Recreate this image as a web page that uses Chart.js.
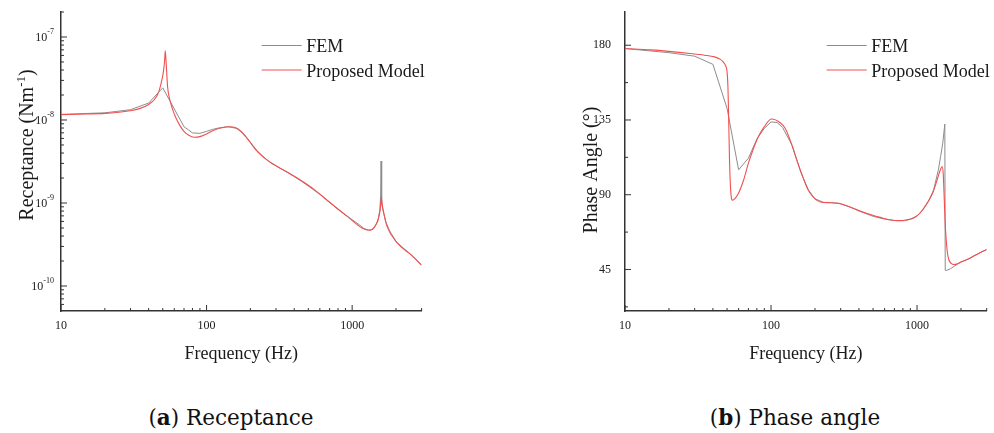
<!DOCTYPE html>
<html>
<head>
<meta charset="utf-8">
<script src="https://cdn.jsdelivr.net/npm/chart.js@4.4.0/dist/chart.umd.min.js"></script>
<style>
  body { margin: 0; background: #fff; width: 994px; height: 433px; overflow: hidden; position: relative; }
  .box { position: absolute; top: 0; width: 497px; height: 370px; }
  .cap { position: absolute; top: 407px; font: 21.5px/1 "DejaVu Serif", serif; color: #111; transform: translateX(-50%); white-space: nowrap; }
</style>
</head>
<body>
<div class="box" style="left:0"><canvas id="rec"></canvas></div>
<div class="box" style="left:497px"><canvas id="pha"></canvas></div>
<div class="cap" style="left:231px">(<b>a</b>) Receptance</div>
<div class="cap" style="left:795px">(<b>b</b>) Phase angle</div>
<script>
// fontit ja värit
const serif = '"Liberation Serif", "Times New Roman", serif';
const ink = '#1a1a1a';
const femColor = 'rgb(140,140,140)';
const modelColor = 'rgb(242,80,80)';
const seriesNames = ['FEM', 'Proposed Model'];

// taajuusakseli (Hz)
const freqTicks = [10, 100, 1000];
const freqMinor = [20, 30, 40, 50, 60, 70, 80, 90, 200, 300, 400, 500, 600, 700, 800, 900, 2000, 3000];

// (a) reseptanssi
const recTicks = [1e-7, 1e-8, 1e-9, 1e-10];
const recTickExp = ['-7', '-8', '-9', '-10'];
const recMinor = [6e-11, 7e-11, 8e-11, 9e-11,
  2e-10, 3e-10, 4e-10, 5e-10, 6e-10, 7e-10, 8e-10, 9e-10,
  2e-9, 3e-9, 4e-9, 5e-9, 6e-9, 7e-9, 8e-9, 9e-9,
  2e-8, 3e-8, 4e-8, 5e-8, 6e-8, 7e-8, 8e-8, 9e-8, 2e-7];

const femRecF = [10, 20, 30, 40, 50, 60, 70, 80, 90, 100, 110, 120, 140, 160, 180, 200, 220, 240, 260, 280, 300, 350, 400, 450, 500,
  600, 700, 800, 900, 1000, 1100, 1200, 1300, 1400, 1500, 1550, 1570, 1580, 1590, 1600, 1650, 1700, 1800, 2000, 2200, 2500, 2800, 3000];
const femRecV = [1.17e-8, 1.22e-8, 1.33e-8, 1.6e-8, 2.44e-8, 1.36e-8, 8.3e-9, 7.0e-9, 6.9e-9, 7.3e-9, 7.7e-9, 8.0e-9, 8.3e-9, 7.95e-9, 6.8e-9, 5.4e-9, 4.35e-9, 3.75e-9, 3.3e-9, 3.0e-9, 2.8e-9, 2.4e-9, 2.08e-9, 1.82e-9, 1.6e-9,
  1.27e-9, 1.02e-9, 8.4e-10, 7.2e-10, 6.3e-10, 5.6e-10, 4.95e-10, 4.7e-10, 4.85e-10, 6.0e-10, 8.2e-10, 1.25e-9, 3.2e-9, 1.3e-9, 9.8e-10, 7.5e-10, 6.0e-10, 4.7e-10, 3.45e-10, 2.96e-10, 2.44e-10, 2.03e-10, 1.78e-10];

const modelRecF = [10, 15, 20, 25, 30, 35, 40, 44, 47, 49, 50.5, 51.5, 52, 52.8, 54, 56, 60, 65, 70, 75, 82, 90, 100, 110, 125, 145,
  165, 190, 215, 240, 270, 310, 360, 420, 550, 710, 925, 1170, 1320, 1450, 1520, 1560, 1585, 1610, 1650, 1740, 2040, 2520, 3000];
const modelRecV = [1.16e-8, 1.18e-8, 1.2e-8, 1.24e-8, 1.29e-8, 1.38e-8, 1.54e-8, 1.78e-8, 2.2e-8, 2.9e-8, 3.8e-8, 5.2e-8, 6.8e-8, 4.8e-8, 2.5e-8, 1.74e-8, 1.18e-8, 8.8e-9, 7.3e-9, 6.6e-9, 6.2e-9, 6.3e-9, 6.8e-9, 7.4e-9, 8.0e-9, 8.3e-9,
  7.8e-9, 6.0e-9, 4.5e-9, 3.7e-9, 3.15e-9, 2.72e-9, 2.35e-9, 2.0e-9, 1.45e-9, 1.0e-9, 6.9e-10, 5.0e-10, 4.7e-10, 5.4e-10, 6.6e-10, 8.5e-10, 1.15e-9, 9.5e-10, 7.5e-10, 5.2e-10, 3.3e-10, 2.4e-10, 1.78e-10];

// (b) vaihekulma (astetta)
const phaseTicks = [45, 90, 135, 180];
const phaseMinor = [22.5, 67.5, 112.5, 157.5];

const femPhF = [10, 20, 30, 40, 50, 60, 70, 80, 90, 100, 110, 120, 140, 160, 180, 200, 230, 260, 300, 350, 400, 500,
  600, 700, 800, 900, 1000, 1100, 1200, 1300, 1400, 1450, 1500, 1550, 1560, 1600, 1700, 1800, 2000, 2200, 2500, 2800, 3000];
const femPhV = [178, 175.5, 173.4, 168.5, 142, 105, 112, 123.5, 130, 133.8, 133.5, 130.5, 119.5, 103.5, 93, 87.5, 85.4, 85.2, 84.5, 82.5, 80.2, 77,
  75.3, 74.5, 74.3, 75.3, 77.2, 81, 86, 93, 105, 113, 121, 132.5, 44.5, 44.5, 45.5, 47, 49.5, 51, 53.5, 55.8, 57];

const modelPhF = [10, 15, 20, 28, 35, 41, 45, 47, 49, 50, 50.7, 51.3, 52, 53, 54.5, 57, 60, 65, 70, 76, 82, 90, 101, 115, 125, 135, 150,
  160, 175, 185, 200, 218, 250, 283, 350, 431, 550, 730, 850, 950, 1050, 1172, 1280, 1373, 1445, 1486, 1510, 1540, 1567, 1610, 1650, 1720, 1785, 1900, 2000, 2207, 2500, 2800, 3000];
const modelPhV = [178, 177.2, 176.3, 175, 174, 173, 171.5, 170, 167.5, 164, 155, 135, 110, 92, 86.7, 88, 91, 99, 109, 118, 125, 131, 135.6, 133.5, 130, 123, 111,
  104, 95, 91, 87.5, 85.6, 85.2, 85, 82.5, 79.4, 76.5, 74.4, 74.8, 76, 79, 85, 91, 99, 105, 107, 103, 85, 69, 56, 51, 48.5, 48, 48.5, 49.5, 51, 53.5, 55.8, 57];

function pts(fs, vs) {
  return fs.map((f, i) => ({ x: f, y: vs[i] }));
}

// Piirretään sisäänpäin osoittavat tikit, selite ja akselien otsikot
const decor = {
  id: 'decor',
  afterDraw(chart, args, o) {
    const ctx = chart.ctx, xs = chart.scales.x, ys = chart.scales.y, a = chart.chartArea;
    ctx.save();
    ctx.strokeStyle = '#333';
    ctx.lineWidth = 1;
    const line = (x1, y1, x2, y2) => { ctx.beginPath(); ctx.moveTo(x1, y1); ctx.lineTo(x2, y2); ctx.stroke(); };
    freqTicks.forEach(v => { const x = xs.getPixelForValue(v); line(x, a.bottom, x, a.bottom - 6); });
    freqMinor.forEach(v => { const x = xs.getPixelForValue(v); line(x, a.bottom, x, a.bottom - 3); });
    o.yMajor.forEach(v => { const y = ys.getPixelForValue(v); line(a.left, y, a.left + 6, y); });
    o.yMinor.forEach(v => { const y = ys.getPixelForValue(v); line(a.left, y, a.left + 3, y); });

    // y-tikkien tekstit potenssimuodossa
    ctx.fillStyle = ink;
    if (o.expLabels) {
      ctx.textBaseline = 'middle';
      o.yMajor.forEach((v, i) => {
        const y = ys.getPixelForValue(v);
        ctx.font = '8px ' + serif;
        const sw = ctx.measureText(o.expLabels[i]).width;
        const xr = a.left - 7;
        ctx.textAlign = 'left';
        ctx.fillText(o.expLabels[i], xr - sw, y - 5);
        ctx.font = '12px ' + serif;
        ctx.textAlign = 'right';
        ctx.fillText('10', xr - sw, y + 1);
      });
    }

    // selite
    ctx.textBaseline = 'alphabetic';
    ctx.textAlign = 'left';
    ctx.font = '18px ' + serif;
    chart.data.datasets.forEach((d, i) => {
      const y = o.legendY + i * 24.5;
      ctx.strokeStyle = d.borderColor;
      ctx.lineWidth = 1.2;
      line(o.legendX, y, o.legendX + 40, y);
      ctx.fillText(d.label, o.legendX + 44.5, y + 6.5);
    });

    // x-otsikko
    ctx.textAlign = 'center';
    ctx.fillText('Frequency (Hz)', (a.left + a.right) / 2, 359);

    // y-otsikko, käännetty
    ctx.translate(o.yTitleX, o.yTitleY);
    ctx.rotate(-Math.PI / 2);
    let w = 0;
    o.yTitle.forEach(p => { ctx.font = p[1] + 'px ' + serif; w += ctx.measureText(p[0]).width; });
    let x = -w / 2;
    ctx.textAlign = 'left';
    o.yTitle.forEach(p => {
      ctx.font = p[1] + 'px ' + serif;
      ctx.fillText(p[0], x, p[2]);
      x += ctx.measureText(p[0]).width;
    });
    ctx.restore();
  }
};

function xAxis() {
  return {
    type: 'logarithmic', min: 10, max: 3000,
    afterBuildTicks: s => { s.ticks = freqTicks.map(v => ({ value: v })); },
    afterFit: s => { s.height = 59; s.paddingLeft = 0; s.paddingRight = 0; },
    grid: { display: false, drawTicks: false },
    border: { color: '#333', width: 1.5 },
    ticks: { callback: v => String(v), font: { family: serif, size: 12 }, color: ink, padding: 8, maxRotation: 0, autoSkip: false }
  };
}

function datasets(femF, femV, modF, modV) {
  return [
    { label: seriesNames[0], data: pts(femF, femV), borderColor: femColor, borderWidth: 1, pointRadius: 0, tension: 0, order: 1 },
    { label: seriesNames[1], data: pts(modF, modV), borderColor: modelColor, borderWidth: 1.1, pointRadius: 0, cubicInterpolationMode: 'monotone', order: 0 }
  ];
}

new Chart(document.getElementById('rec'), {
  type: 'line',
  data: { datasets: datasets(femRecF, femRecV, modelRecF, modelRecV) },
  options: {
    responsive: true, maintainAspectRatio: false, animation: false, events: [],
    layout: { padding: { top: 12, right: 75.4, left: 0, bottom: 0 } },
    scales: {
      x: xAxis(),
      y: {
        type: 'logarithmic', min: 5e-11, max: 2e-7,
        afterFit: s => { s.width = 61; s.paddingTop = 0; s.paddingBottom = 0; },
        grid: { display: false, drawTicks: false },
        border: { color: '#333', width: 1.5 },
        ticks: { display: false }
      }
    },
    plugins: {
      legend: { display: false }, tooltip: { enabled: false },
      decor: {
        yMajor: recTicks, yMinor: recMinor, expLabels: recTickExp,
        legendX: 261.7, legendY: 45.5,
        yTitleX: 33, yTitleY: 145,
        yTitle: [['Receptance (Nm', 20, 0], ['-1', 13, -8], [')', 20, 0]]
      }
    }
  },
  plugins: [decor]
});

new Chart(document.getElementById('pha'), {
  type: 'line',
  data: { datasets: datasets(femPhF, femPhV, modelPhF, modelPhV) },
  options: {
    responsive: true, maintainAspectRatio: false, animation: false, events: [],
    layout: { padding: { top: 12, right: 7.3, left: 0, bottom: 0 } },
    scales: {
      x: xAxis(),
      y: {
        type: 'linear', min: 20, max: 200, bounds: 'data',
        afterBuildTicks: s => { s.ticks = phaseTicks.map(v => ({ value: v })); },
        afterFit: s => { s.width = 128; s.paddingTop = 0; s.paddingBottom = 0; },
        grid: { display: false, drawTicks: false },
        border: { color: '#333', width: 1.5 },
        ticks: { font: { family: serif, size: 12 }, color: ink, padding: 14 }
      }
    },
    plugins: {
      legend: { display: false }, tooltip: { enabled: false },
      decor: {
        yMajor: phaseTicks, yMinor: phaseMinor,
        legendX: 329.7, legendY: 45.5,
        yTitleX: 99.7, yTitleY: 170,
        yTitle: [['Phase Angle (\u00b0)', 20, 0]]
      }
    }
  },
  plugins: [decor]
});
</script>
</body>
</html>
